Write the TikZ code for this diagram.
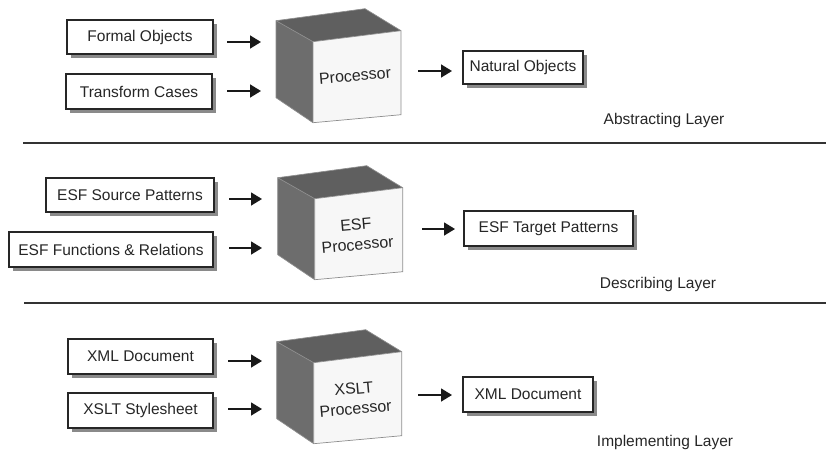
\documentclass[tikz,border=0pt]{standalone}
\usepackage{fontspec}
\setmainfont{Liberation Sans}
\usetikzlibrary{arrows.meta,shadows}
\definecolor{shadowgray}{HTML}{8A8A8A}
\definecolor{cubetop}{HTML}{5F5F5F}
\definecolor{cubeside}{HTML}{6D6D6D}
\definecolor{cubefront}{HTML}{F7F7F7}
\definecolor{cubeedge}{HTML}{8E8E8E}
\definecolor{sepline}{HTML}{333333}
\tikzset{
  txt/.style={font=\fontsize{15.5}{18}\selectfont, text=black!85},
  inbox/.style={txt, draw=black!85, line width=1.3pt, fill=white, inner sep=0pt,
    drop shadow={shadow xshift=4pt, shadow yshift=-4pt, fill=shadowgray, opacity=1}},
  arr/.style={line width=1.6pt, draw=black!90, -{Triangle[length=11pt,width=13pt]}},
  sep/.style={line width=2pt, draw=sepline},
  cubelabel/.style={font=\fontsize{16}{20}\selectfont, text=black!85, align=center, rotate=5, inner sep=0pt},
  layerlabel/.style={txt}
}
\newcommand{\mycube}[3]{%
  % #1 = x, #2 = y of back-left-top corner, #3 = name
  \begin{scope}[shift={(#1,#2)}]
    \fill[cubeside] (0,0) -- (37,21) -- (37,102) -- (0,77) -- cycle;
    \fill[cubetop] (0,0) -- (89,-12) -- (125,10) -- (37,21) -- cycle;
    \fill[cubefront] (37,21) -- (125,10) -- (125,94) -- (37,102) -- cycle;
    \draw[cubeedge, line width=0.7pt] (0,0) -- (89,-12) -- (125,10) -- (125,94) -- (37,102) -- (0,77) -- cycle;
    \draw[cubeedge, line width=0.7pt] (0,0) -- (37,21) -- (125,10) (37,21) -- (37,102);
    \coordinate (#3) at (81,58);
  \end{scope}}
\begin{document}
\begin{tikzpicture}[x=1pt,y=-1pt]
\useasboundingbox (0,0) rectangle (826,453);

% ---------- Abstracting layer ----------
\node[inbox, minimum width=146pt, minimum height=34pt] (fo) at (140,37) {Formal Objects};
\node[inbox, minimum width=146pt, minimum height=35pt] (tc) at (139,91.5) {Transform Cases};
\mycube{276}{20.7}{cubeA}
\node[cubelabel] (pA) at ([xshift=-2pt,yshift=3pt]cubeA) {Processor};
\node[inbox, minimum width=120pt, minimum height=33pt] (no) at (523,67.5) {Natural Objects};
\coordinate (a1s) at (227,42);  \coordinate (a1e) at (261,42);
\coordinate (a2s) at (227,91);  \coordinate (a2e) at (261,91);
\coordinate (a3s) at (418,71);  \coordinate (a3e) at (452,71);
\draw[arr] (a1s) -- (a1e);
\draw[arr] (a2s) -- (a2e);
\draw[arr] (a3s) -- (a3e);
\node[layerlabel] (lA) at (664,120) {Abstracting Layer};
\coordinate (s1l) at (23,143); \coordinate (s1r) at (826,143);
\draw[sep] (s1l) -- (s1r);

% ---------- Describing layer ----------
\node[inbox, minimum width=168pt, minimum height=34pt] (sp) at (130,195) {ESF Source Patterns};
\node[inbox, minimum width=204pt, minimum height=35pt] (fr) at (111,249.5) {ESF Functions \& Relations};
\mycube{277.7}{177.7}{cubeB}
\node[cubelabel] (pB) at ([xshift=-2pt,yshift=1pt]cubeB) {ESF\\Processor};
\node[inbox, minimum width=169pt, minimum height=35pt] (tp) at (548.5,228.5) {ESF Target Patterns};
\coordinate (b1s) at (229,199);  \coordinate (b1e) at (262,199);
\coordinate (b2s) at (229,248);  \coordinate (b2e) at (262,248);
\coordinate (b3s) at (422,229);  \coordinate (b3e) at (455,229);
\draw[arr] (b1s) -- (b1e);
\draw[arr] (b2s) -- (b2e);
\draw[arr] (b3s) -- (b3e);
\node[layerlabel] (lB) at (658,284) {Describing Layer};
\coordinate (s2l) at (24,303); \coordinate (s2r) at (826,303);
\draw[sep] (s2l) -- (s2r);

% ---------- Implementing layer ----------
\node[inbox, minimum width=145pt, minimum height=35pt] (xd) at (140.5,356.5) {XML Document};
\node[inbox, minimum width=145pt, minimum height=35pt] (xs) at (140.5,410.5) {XSLT Stylesheet};
\mycube{276.7}{341.7}{cubeC}
\node[cubelabel] (pC) at ([xshift=-3pt,yshift=1pt]cubeC) {XSLT\\Processor};
\node[inbox, minimum width=130pt, minimum height=35pt] (xo) at (528,394.5) {XML Document};
\coordinate (c1s) at (228,361);  \coordinate (c1e) at (262,361);
\coordinate (c2s) at (228,409);  \coordinate (c2e) at (262,409);
\coordinate (c3s) at (418,395);  \coordinate (c3e) at (452,395);
\draw[arr] (c1s) -- (c1e);
\draw[arr] (c2s) -- (c2e);
\draw[arr] (c3s) -- (c3e);
\node[layerlabel] (lC) at (665,442) {Implementing Layer};
\end{tikzpicture}
\end{document}
